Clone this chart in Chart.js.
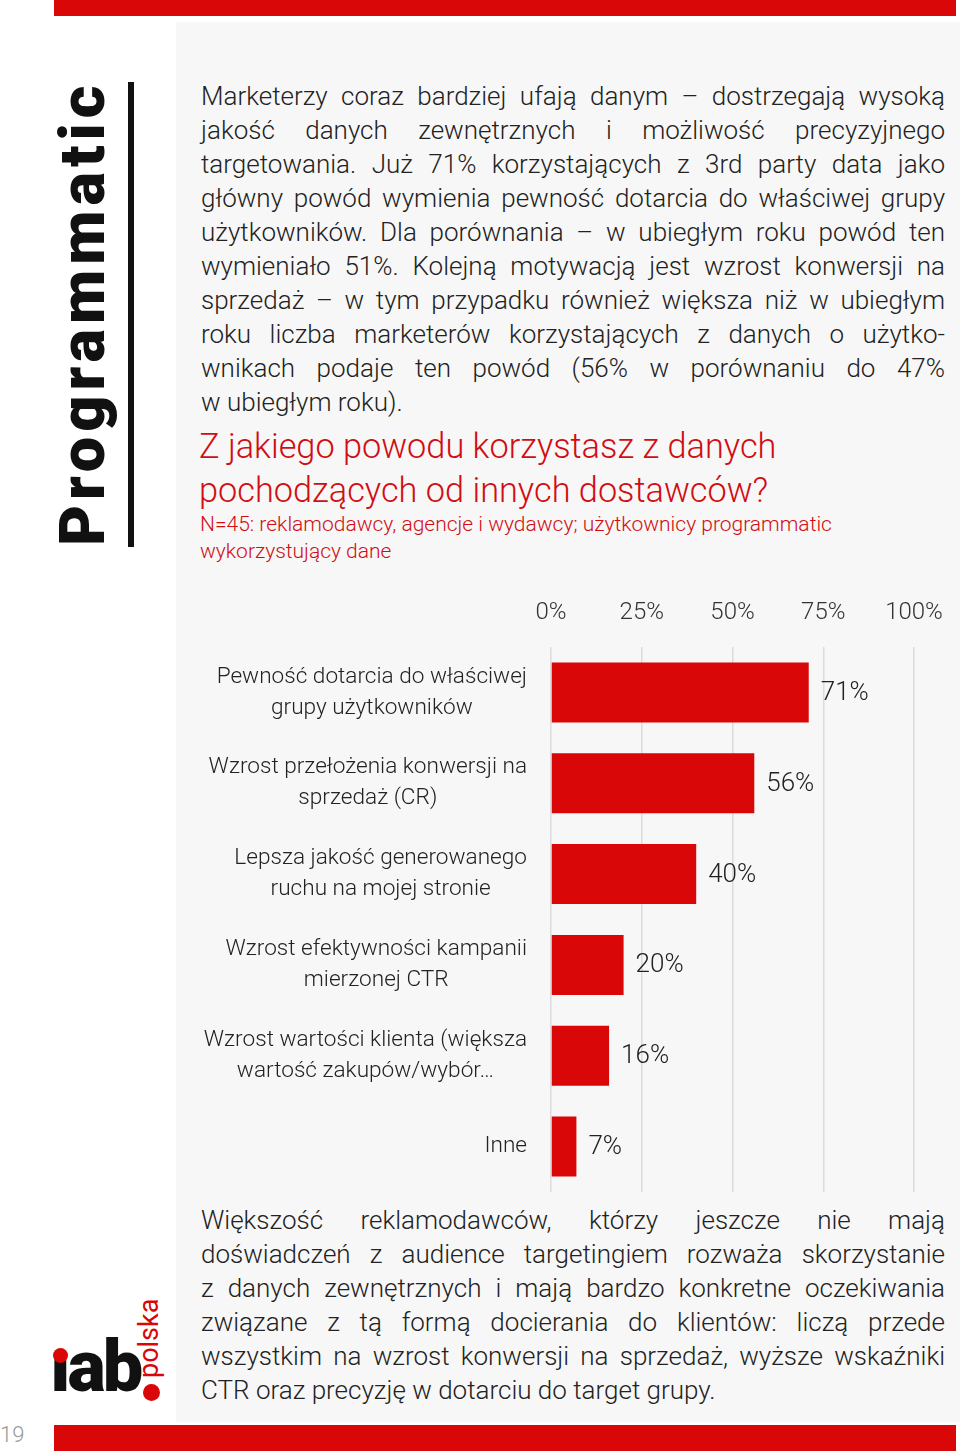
<!DOCTYPE html>
<html lang="pl">
<head>
<meta charset="utf-8">
<script src="https://cdn.jsdelivr.net/npm/chart.js@4/dist/chart.umd.min.js"></script>
<style>
  html, body { margin: 0; padding: 0; }
  body { width: 960px; height: 1451px; position: relative; background: #fff; font-family: Roboto, sans-serif; overflow: hidden; }
  .abs { position: absolute; }
  #panel { left: 176px; top: 22px; width: 784px; height: 1400px; background: #f7f7f7; }
  .redbar { background: #d90707; }
  #topbar { left: 54px; top: 0; width: 902px; height: 16px; }
  #botbar { left: 54px; top: 1425px; width: 902px; height: 26px; }
  #vline { left: 128px; top: 82px; width: 6px; height: 465px; background: #111; }
  #section { left: 52px; top: 84px; height: 462px; writing-mode: vertical-rl; transform: rotate(180deg);
    font-weight: 900; font-size: 63px; line-height: 62px; color: #111; letter-spacing: 5px; text-align: center; }
  .para { left: 201px; width: 744px; font-weight: 300; font-size: 26px; line-height: 34px; color: #222; }
  .para div { text-align: justify; text-align-last: justify; white-space: nowrap; }
  .para div.last { text-align-last: left; }
  #p1 { top: 79px; }
  #p2 { top: 1203px; }
  #title { left: 199px; top: 424px; font-weight: 300; font-size: 34.3px; line-height: 44px; color: #d10d12; }
  #sub { left: 200px; top: 511px; font-weight: 300; font-size: 21px; line-height: 27px; color: #d10d12; }
  #chartwrap { left: 190px; top: 585px; width: 770px; height: 607px; }
  #logo { left: 50px; top: 1322px; font-weight: 900; font-size: 72px; line-height: 90px; color: #111; letter-spacing: -3px; }
  #idot { left: 53px; top: 1348px; width: 15px; height: 15px; border-radius: 50%; background: #d90707; }
  #polska { left: 134px; top: 1298px; height: 80px; writing-mode: vertical-rl; transform: rotate(180deg);
    font-weight: 400; font-size: 27px; line-height: 30px; color: #d90707; }
  #pdot { left: 143px; top: 1384px; width: 17px; height: 17px; border-radius: 50%; background: #d90707; }
  #pagenum { left: 0; top: 1422px; font-weight: 300; font-size: 22px; color: #9a9a9a; }
</style>
</head>
<body>
<div id="panel" class="abs"></div>
<div id="topbar" class="abs redbar"></div>
<div id="botbar" class="abs redbar"></div>
<div id="section" class="abs">Programmatic</div>
<div id="vline" class="abs"></div>

<div id="p1" class="abs para">
  <div>Marketerzy coraz bardziej ufają danym – dostrzegają wysoką</div>
  <div>jakość danych zewnętrznych i możliwość precyzyjnego</div>
  <div>targetowania. Już 71% korzystających z 3rd party data jako</div>
  <div>główny powód wymienia pewność dotarcia do właściwej grupy</div>
  <div>użytkowników. Dla porównania – w ubiegłym roku powód ten</div>
  <div>wymieniało 51%. Kolejną motywacją jest wzrost konwersji na</div>
  <div>sprzedaż – w tym przypadku również większa niż w ubiegłym</div>
  <div>roku liczba marketerów korzystających z danych o użytko-</div>
  <div>wnikach podaje ten powód (56% w porównaniu do 47%</div>
  <div class="last">w ubiegłym roku).</div>
</div>

<div id="title" class="abs">Z jakiego powodu korzystasz z danych<br>pochodzących od innych dostawców?</div>
<div id="sub" class="abs">N=45: reklamodawcy, agencje i wydawcy; użytkownicy programmatic<br>wykorzystujący dane</div>

<div id="chartwrap" class="abs"><canvas id="chart" width="770" height="607"></canvas></div>

<div id="p2" class="abs para">
  <div>Większość reklamodawców, którzy jeszcze nie mają</div>
  <div>doświadczeń z audience targetingiem rozważa skorzystanie</div>
  <div>z danych zewnętrznych i mają bardzo konkretne oczekiwania</div>
  <div>związane z tą formą docierania do klientów: liczą przede</div>
  <div>wszystkim na wzrost konwersji na sprzedaż, wyższe wskaźniki</div>
  <div class="last">CTR oraz precyzję w dotarciu do target grupy.</div>
</div>

<div id="logo" class="abs">ıab</div>
<div id="idot" class="abs"></div>
<div id="polska" class="abs">polska</div>
<div id="pdot" class="abs"></div>
<div id="pagenum" class="abs">19</div>

<script>
// chart data
const categories = [
    ["Pewność dotarcia do właściwej", "grupy użytkowników"],
    ["Wzrost przełożenia konwersji na", "sprzedaż (CR)"],
    ["Lepsza jakość generowanego", "ruchu na mojej stronie"],
    ["Wzrost efektywności kampanii", "mierzonej CTR"],
    ["Wzrost wartości klienta (większa", "wartość zakupów/wybór…"],
    ["Inne"]
];
const values = [71, 56, 40, 20, 16, 7];
const tickValues = [0, 25, 50, 75, 100];

const red = "#d90707";

// category labels: each block centred on its own widest line, block right-aligned
const categoryLabels = {
    id: "categoryLabels",
    afterDraw(chart) {
        const ctx = chart.ctx;
        const yScale = chart.scales.y;
        const right = chart.chartArea.left - 24;
        ctx.save();
        ctx.font = "300 22.6px Roboto";
        ctx.fillStyle = "#222";
        ctx.textAlign = "center";
        ctx.textBaseline = "middle";
        categories.forEach((lines, i) => {
            const y = yScale.getPixelForValue(i);
            const widest = Math.max(...lines.map(l => ctx.measureText(l).width));
            const cx = right - widest / 2;
            const lh = 31;
            lines.forEach((line, j) => {
                ctx.fillText(line, cx, y - (lines.length - 1) * lh / 2 + j * lh);
            });
        });
        ctx.restore();
    }
};

// value labels at the end of each bar
const valueLabels = {
    id: "valueLabels",
    afterDatasetsDraw(chart) {
        const ctx = chart.ctx;
        const meta = chart.getDatasetMeta(0);
        ctx.save();
        ctx.font = "300 26px Roboto";
        ctx.fillStyle = "#222";
        ctx.textAlign = "left";
        ctx.textBaseline = "middle";
        meta.data.forEach((bar, i) => {
            ctx.fillText(values[i] + "%", bar.x + 12, bar.y + 1);
        });
        ctx.restore();
    }
};

const config = {
    type: "bar",
    data: {
        labels: categories,
        datasets: [{
            data: values,
            backgroundColor: red,
            borderWidth: 0,
            barPercentage: 0.66,
            categoryPercentage: 1
        }]
    },
    options: {
        indexAxis: "y",
        responsive: false,
        animation: false,
        layout: { padding: { left: 0, right: 46, top: 0, bottom: 0 } },
        plugins: {
            legend: { display: false },
            tooltip: { enabled: false }
        },
        scales: {
            x: {
                position: "top",
                min: 0,
                max: 100,
                afterBuildTicks(scale) {
                    scale.ticks = tickValues.map(v => ({ value: v }));
                },
                afterFit(scale) {
                    scale.height = 62;
                    // let the layout padding decide where 100% sits
                    scale.paddingLeft = 0;
                    scale.paddingRight = 0;
                },
                ticks: {
                    padding: 20,
                    color: "#333",
                    font: { family: "Roboto", size: 24, weight: "300" },
                    callback: v => v + "%"
                },
                grid: { color: "#dcdcdc", lineWidth: 1.5, drawTicks: false },
                border: { display: false }
            },
            y: {
                afterFit(scale) { scale.width = 361; },
                ticks: { display: false },
                grid: { display: false },
                border: { display: false }
            }
        }
    },
    plugins: [categoryLabels, valueLabels]
};

new Chart(document.getElementById("chart"), config);
</script>
</body>
</html>
